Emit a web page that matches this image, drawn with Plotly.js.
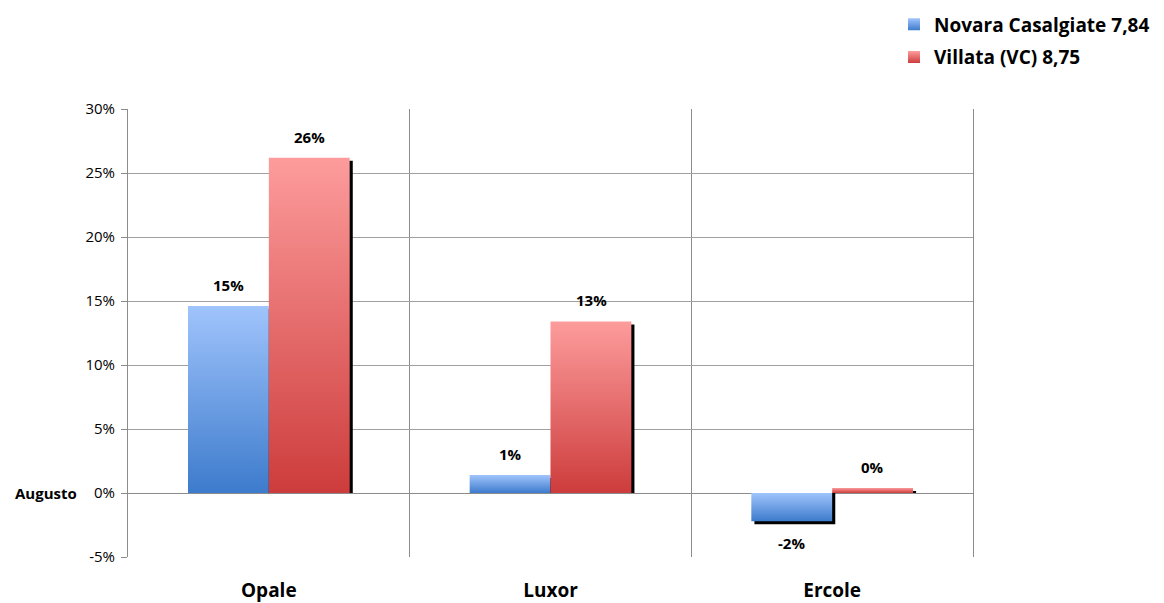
<!DOCTYPE html>
<html>
<head>
<meta charset="utf-8">
<script src="https://cdn.plot.ly/plotly-3.0.1.min.js"></script>
<style>
html,body{margin:0;padding:0;background:#fff;}
#chart{width:1164px;height:603px;}
</style>
</head>
<body>
<div id="chart"></div>
<script>
// ---- data ----
var categories = ['Opale', 'Luxor', 'Ercole'];
var seriesNames = ['Novara Casalgiate 7,84', 'Villata (VC) 8,75'];
var novaraValues = [14.6, 1.4, -2.2];
var villataValues = [26.2, 13.4, 0.4];
var yTickValues = [-5, 0, 5, 10, 15, 20, 25, 30];
var yTickLabels = ['-5%', '0%', '5%', '10%', '15%', '20%', '25%', '30%'];
var rowLabel = 'Augusto';

// ---- styling ----
var FONT = '"Open Sans", "Noto Sans", sans-serif';
var BAR_W = 0.287;
var SH_DX = 0.011;         // shadow x offset (category units)
var SH_DY = 3 * 35 / 448;  // shadow y offset (data units ~3px)
var colors = ['#6c9ee4', '#e66c6c'];
var gradients = [['#a0c4fc', '#3d7bcc'], ['#fd9c9c', '#cd3c3c']];
var allSeries = [novaraValues, villataValues];
var offsets = [-BAR_W, 0];

var traces = [];
// shadows first (behind the bars)
allSeries.forEach(function (vals, i) {
  traces.push({
    type: 'bar', x: categories,
    y: vals.map(function (v) { return v - SH_DY; }),
    base: 0, width: BAR_W, offset: offsets[i] + SH_DX,
    marker: {color: '#000000', line: {width: 0}},
    showlegend: false, hoverinfo: 'skip'
  });
});
allSeries.forEach(function (vals, i) {
  traces.push({
    type: 'bar', name: seriesNames[i], x: categories, y: vals,
    width: BAR_W, offset: offsets[i],
    marker: {color: colors[i], line: {width: 0}},
    legendgroup: 'g' + i
  });
});

var annotations = [];
allSeries.forEach(function (vals, i) {
  vals.forEach(function (v, j) {
    annotations.push({
      x: categories[j], y: v, xref: 'x', yref: 'y',
      text: '<b>' + Math.round(v) + '%</b>', showarrow: false,
      xshift: (i === 0 ? -1 : 1) * 40.5, yshift: v >= 0 ? 21 : -22,
      yanchor: 'middle', xanchor: 'center',
      font: {family: FONT, size: 15, color: '#000'}
    });
  });
});
annotations.push({
  x: -0.058, xref: 'paper', y: 0, yref: 'y', xanchor: 'right', yanchor: 'middle',
  text: '<b>' + rowLabel + '</b>', showarrow: false,
  font: {family: FONT, size: 15, color: '#000'}
});

var layout = {
  width: 1164, height: 603,
  margin: {l: 128, r: 191, t: 109, b: 46, pad: 0, autoexpand: false},
  paper_bgcolor: '#ffffff', plot_bgcolor: '#ffffff',
  barmode: 'overlay',
  font: {family: FONT, size: 15, color: '#000'},
  xaxis: {
    type: 'category', range: [-0.5, 2.5], fixedrange: true,
    tickson: 'boundaries', showgrid: true, gridcolor: '#8c8c8c', gridwidth: 1,
    ticks: '', showline: false, zeroline: false,
    tickfont: {family: FONT, size: 19, color: '#000', weight: 'bold'},
    ticklabelstandoff: 20
  },
  yaxis: {
    range: [-5, 30], fixedrange: true,
    tickvals: yTickValues, ticktext: yTickLabels,
    showgrid: true, gridcolor: '#a0a0a0', gridwidth: 1,
    zeroline: true, zerolinecolor: '#8c8c8c', zerolinewidth: 1,
    showline: true, linecolor: '#8c8c8c', linewidth: 1, mirror: true,
    ticks: 'outside', ticklen: 6, tickcolor: '#8c8c8c',
    ticklabelstandoff: 3,
    tickfont: {family: FONT, size: 15, color: '#000'}
  },
  legend: {
    x: 1.2154, xanchor: 'right', y: 1.231, yanchor: 'top',
    font: {family: FONT, size: 19, color: '#000', weight: 'bold'},
    traceorder: 'grouped', tracegroupgap: 5,
    bgcolor: 'rgba(0,0,0,0)'
  },
  annotations: annotations,
  showlegend: true
};

Plotly.newPlot('chart', traces, layout, {displayModeBar: false, staticPlot: true}).then(function (gd) {
  // apply vertical gradient fills to the main bars (style only)
  var svg = gd.querySelector('.main-svg');
  var ns = 'http://www.w3.org/2000/svg';
  var defs = svg.querySelector('defs') || svg.insertBefore(document.createElementNS(ns, 'defs'), svg.firstChild);
  gradients.forEach(function (g, i) {
    var lg = document.createElementNS(ns, 'linearGradient');
    lg.setAttribute('id', 'barGrad' + i);
    lg.setAttribute('x1', '0'); lg.setAttribute('y1', '0');
    lg.setAttribute('x2', '0'); lg.setAttribute('y2', '1');
    [[0, g[0]], [1, g[1]]].forEach(function (s) {
      var st = document.createElementNS(ns, 'stop');
      st.setAttribute('offset', s[0]);
      st.setAttribute('stop-color', s[1]);
      lg.appendChild(st);
    });
    defs.appendChild(lg);
  });
  var barTraces = gd.querySelectorAll('.barlayer .trace');
  for (var t = 2; t < barTraces.length; t++) {
    var gi = t - 2;
    barTraces[t].querySelectorAll('path').forEach(function (p) {
      p.style.fill = 'url(#barGrad' + gi + ')';
    });
  }
  var legPts = gd.querySelectorAll('.legend .traces .legendpoints path');
  legPts.forEach(function (p, k) {
    p.style.fill = 'url(#barGrad' + k + ')';
  });
});
</script>
</body>
</html>
